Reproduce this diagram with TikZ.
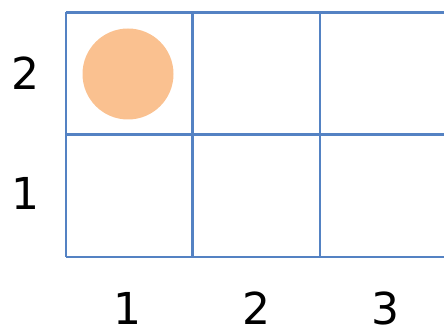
\documentclass[tikz,border=0pt]{standalone}
\usepackage{fontspec}
\setmainfont{DejaVu Sans}
\definecolor{gridblue}{RGB}{84,130,195}
\definecolor{dotorange}{RGB}{250,193,144}
\begin{document}
\begin{tikzpicture}[x=1pt,y=-1pt,
  gridline/.style={draw=gridblue,line width=2.8pt},
  axislabel/.style={font=\fontsize{44}{44}\selectfont,inner sep=0pt}]
\useasboundingbox (0,0) rectangle (444,331);
\fill[dotorange] (128,74) circle (45.5);
\draw[gridline] (66,12.5) -- (446,12.5);
\draw[gridline] (66,134.5) -- (446,134.5);
\draw[gridline] (66,257) -- (446,257);
\draw[gridline] (66,12.5) -- (66,257);
\draw[gridline] (192.5,12.5) -- (192.5,257);
\draw[gridline] (320,12.5) -- (320,257);
\node[axislabel] (r2) at (25,73) {2};
\node[axislabel] (r1) at (25,193) {1};
\node[axislabel] (c1) at (127,308) {1};
\node[axislabel] (c2) at (256,308) {2};
\node[axislabel] (c3) at (385,308) {3};
\end{tikzpicture}
\end{document}
